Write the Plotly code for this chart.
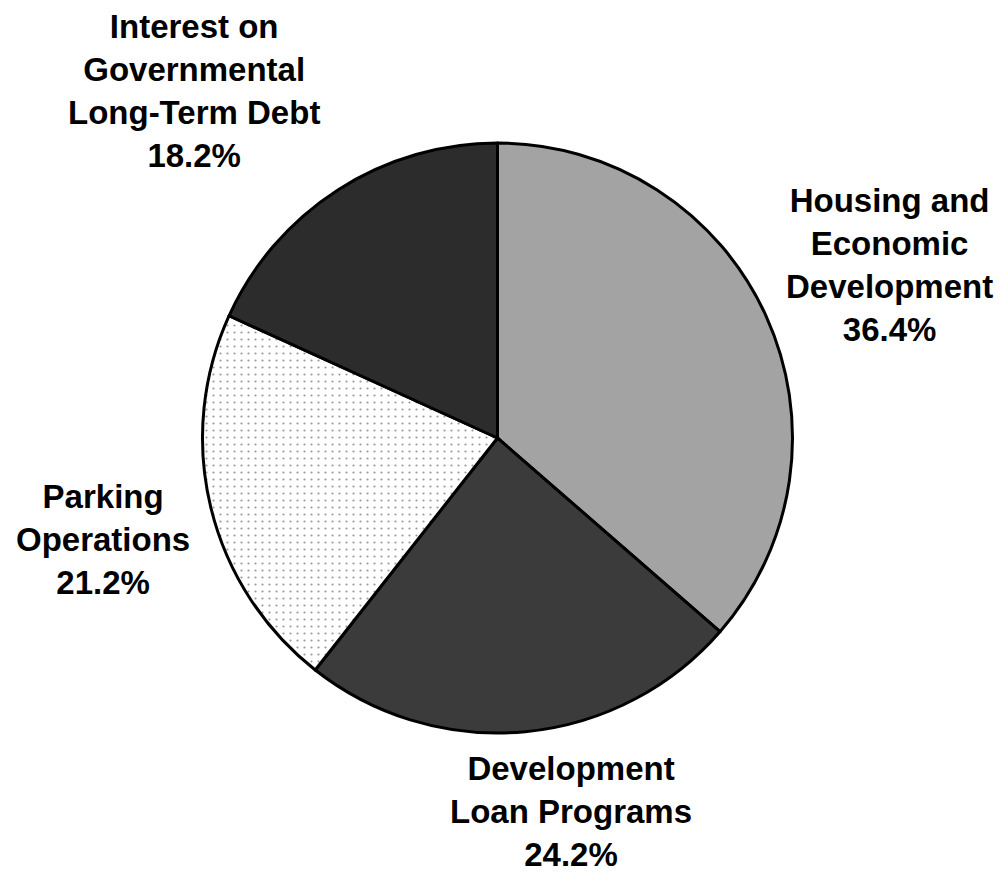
import plotly.graph_objects as go

categories = ["Housing and Economic Development", "Development Loan Programs",
              "Parking Operations", "Interest on Governmental Long-Term Debt"]
values = [36.4, 24.2, 21.2, 18.2]
label_texts = ["Housing and<br>Economic<br>Development<br>36.4%",
               "Development<br>Loan Programs<br>24.2%",
               "Parking<br>Operations<br>21.2%",
               "Interest on<br>Governmental<br>Long-Term Debt<br>18.2%"]
colors = ["#a3a3a3", "#3b3b3b", "#fbfbfb", "#2c2c2c"]
label_pos = [(889, 265), (571, 811), (103, 539), (194, 91)]

W, H = 1005, 875
fig = go.Figure(go.Pie(
    labels=categories, values=values, sort=False, direction="clockwise",
    rotation=0, textinfo="none", hoverinfo="label+percent",
    marker=dict(colors=colors, line=dict(color="black", width=3),
                pattern=dict(shape=["", "", ".", ""], fgcolor="#9a9a9a",
                             size=7, solidity=0.08)),
    domain=dict(x=[200 / W, 795 / W], y=[(H - 733) / H, (H - 143) / H]),
    showlegend=False,
))

for txt, (px, py) in zip(label_texts, label_pos):
    fig.add_annotation(text="<b>" + txt + "</b>", x=px / W, y=1 - py / H,
                       xref="paper", yref="paper", xanchor="center", yanchor="middle",
                       showarrow=False, align="center",
                       font=dict(family="Liberation Sans, Arial, sans-serif", size=33, color="black"))

fig.update_layout(width=W, height=H, margin=dict(l=0, r=0, t=0, b=0),
                  paper_bgcolor="white", plot_bgcolor="white")
fig.write_html("out.html")
